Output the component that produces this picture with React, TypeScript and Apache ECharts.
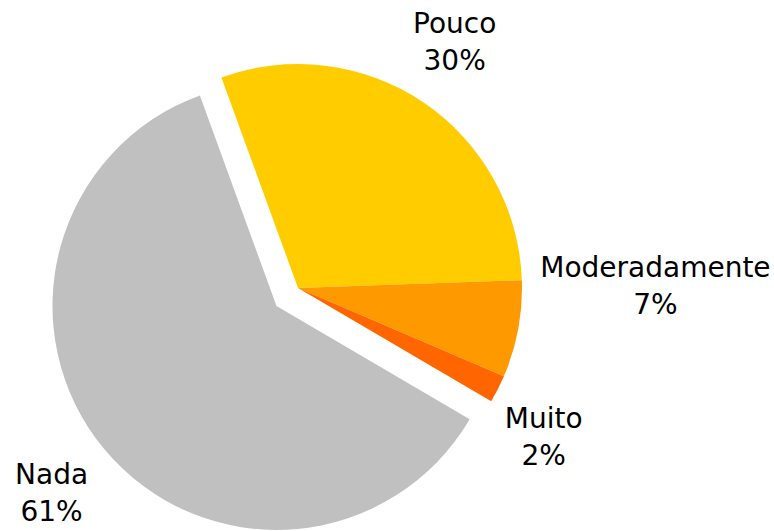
import React, { useEffect, useRef } from "react";
import * as echarts from "echarts";

const categories = ["Pouco", "Moderadamente", "Muito", "Nada"];
const values = [30, 7, 2, 61];
const colors = ["#FFCC00", "#FF9900", "#FF6600", "#C0C0C0"];
const explodedIndex = 3;

const CX = 298;
const CY = 288;
const R = 224;
const START = 110;
const OFFSET = 28;
const labelGap = [14, 18, 11, 17];
const labelAngleShift = [1.5, 11, -4.5, 0];

export default function App() {
  const ref = useRef<HTMLDivElement>(null);
  useEffect(() => {
    document.body.style.margin = "0";
    const chart = echarts.init(ref.current!, undefined, { renderer: "svg" });
    const total = values.reduce((a, b) => a + b, 0);
    const mids: number[] = [];
    let acc = START;
    values.forEach((v) => {
      const span = (v / total) * 360;
      mids.push(acc - span / 2);
      acc -= span;
    });
    const midRad = (i: number) => (mids[i] * Math.PI) / 180;
    const origin = (i: number) =>
      i === explodedIndex
        ? [CX + OFFSET * Math.cos(midRad(i)), CY - OFFSET * Math.sin(midRad(i))]
        : [CX, CY];

    const makeSeries = (exploded: boolean) => {
      const c = exploded ? origin(explodedIndex) : [CX, CY];
      return {
        type: "pie",
        center: c,
        radius: R,
        startAngle: START,
        clockwise: true,
        selectedMode: false,
        avoidLabelOverlap: false,
        silent: true,
        emphasis: { disabled: true },
        data: categories.map((name, i) => {
          const visible = exploded ? i === explodedIndex : i !== explodedIndex;
          return {
            name,
            value: values[i],
            itemStyle: { color: visible ? colors[i] : "rgba(0,0,0,0)" },
            label: { show: visible },
          };
        }),
        label: {
          show: true,
          position: "outside",
          formatter: (p: any) => `${p.name}\n${Math.round(p.percent)}%`,
          fontFamily: "DejaVu Sans",
          fontSize: 28,
          lineHeight: 37,
          color: "#000000",
          align: "center",
        },
        labelLine: { show: false },
        labelLayout: (p: any) => {
          const i = p.dataIndex;
          const a = ((mids[i] + labelAngleShift[i]) * Math.PI) / 180;
          const ux = Math.cos(a);
          const uy = -Math.sin(a);
          const [ox, oy] = origin(i);
          const hw = p.labelRect.width / 2;
          const hh = p.labelRect.height / 2;
          const d = R + labelGap[i] + hw * Math.abs(ux) + hh * Math.abs(uy);
          return {
            x: ox + d * ux,
            y: oy + d * uy,
            align: "center",
            verticalAlign: "middle",
          };
        },
      };
    };

    chart.setOption({
      animation: false,
      backgroundColor: "#ffffff",
      series: [makeSeries(false), makeSeries(true)],
    });
    return () => chart.dispose();
  }, []);
  return (
    <div
      ref={ref}
      style={{ position: "absolute", left: 0, top: 0, width: 774, height: 531 }}
    />
  );
}
